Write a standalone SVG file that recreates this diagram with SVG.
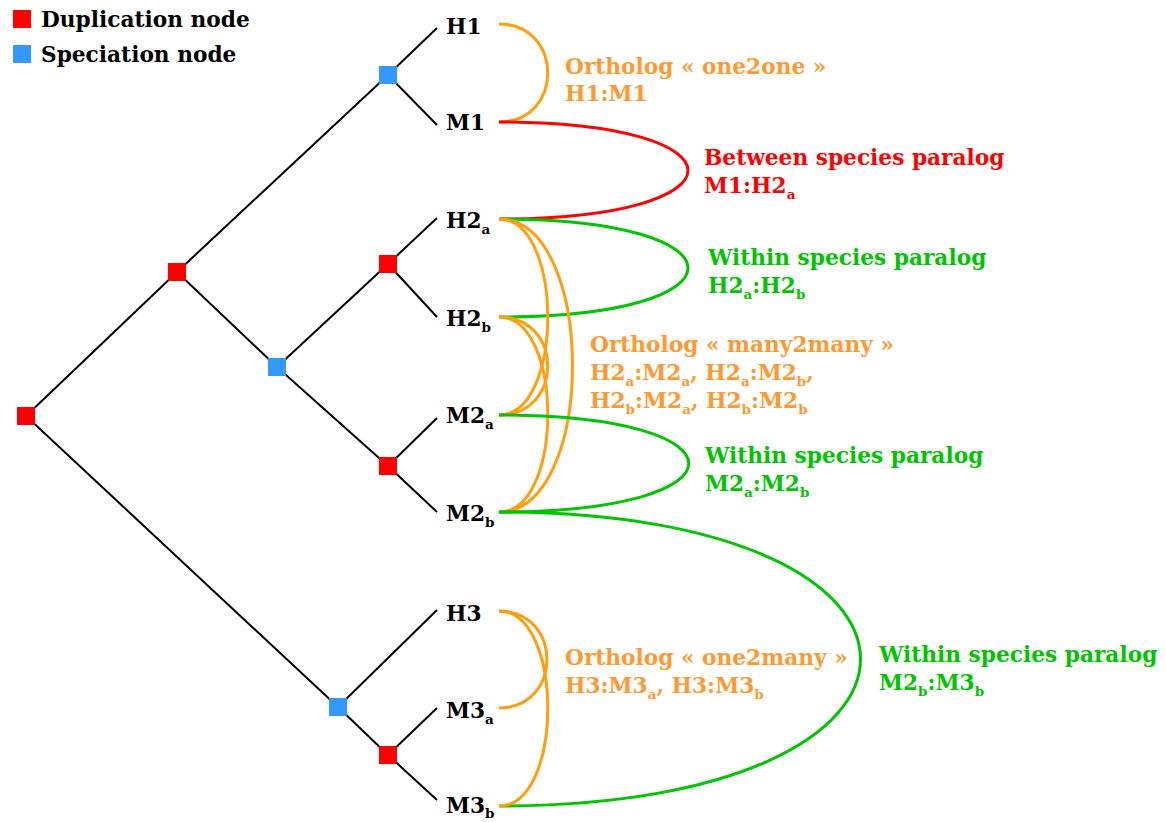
<svg xmlns="http://www.w3.org/2000/svg" width="1166" height="822" viewBox="0 0 1166 822">
  <style>
    text { font-family: "DejaVu Serif", "Liberation Serif", serif; font-weight: bold; font-size: 21.7px; }
    .leaf { fill: #000; }
    .sub { font-size: 13.5px; }
    .edge { stroke: #000; stroke-width: 2; fill: none; }
    .arc { fill: none; stroke-width: 3; }
    .orth { stroke: #FF9E0F; }
    .para-between { stroke: #FF0000; }
    .para-within { stroke: #00C400; }
    .t-orth { fill: #FF9933; }
    .t-between { fill: #FF0000; }
    .t-within { fill: #00C400; }
    .dup { fill: #FF0000; }
    .spec { fill: #3399FF; }
  </style>

  <!-- legend -->
  <g id="legend">
    <rect class="dup" x="13" y="10" width="18" height="18"/>
    <text x="41" y="27">Duplication node</text>
    <rect class="spec" x="13" y="45" width="18" height="18"/>
    <text x="41" y="62">Speciation node</text>
  </g>

  <!-- tree branches and relationship arcs -->
  <g id="connectors">
    <g id="branches">
      <path class="edge" d="M26,416 L177,272"/>
      <path class="edge" d="M26,416 L338,707"/>
      <path class="edge" d="M177,272 L388,75"/>
      <path class="edge" d="M177,272 L277,367"/>
      <path class="edge" d="M388,75 L437,28"/>
      <path class="edge" d="M388,75 L437,125"/>
      <path class="edge" d="M277,367 L388,264"/>
      <path class="edge" d="M277,367 L388,466"/>
      <path class="edge" d="M388,264 L437,218"/>
      <path class="edge" d="M388,264 L437,317"/>
      <path class="edge" d="M388,466 L437,418"/>
      <path class="edge" d="M388,466 L437,512"/>
      <path class="edge" d="M338,707 L437,610"/>
      <path class="edge" d="M338,707 L388,755"/>
      <path class="edge" d="M388,755 L437,708"/>
      <path class="edge" d="M388,755 L437,800"/>
    </g>
    <g id="arcs">
      <!-- orthologs one2one -->
      <path class="arc orth" d="M499,24 C564,24 564,122 499,122"/>
      <!-- between species paralog -->
      <path class="arc para-between" d="M499,122 C751,122 751,219 499,219"/>
      <!-- within species paralog H2a:H2b -->
      <path class="arc para-within" d="M499,219 C751,219 751,317 499,317"/>
      <!-- orthologs many2many -->
      <path class="arc orth" d="M499,219 C564,219 564,415 499,415"/>
      <path class="arc orth" d="M499,219 C597,219 597,512 499,512"/>
      <path class="arc orth" d="M499,317 C564,317 564,415 499,415"/>
      <path class="arc orth" d="M499,317 C564,317 564,512 499,512"/>
      <!-- within species paralog M2a:M2b -->
      <path class="arc para-within" d="M499,415 C752,415 752,512 499,512"/>
      <!-- within species paralog M2b:M3b -->
      <path class="arc para-within" d="M499,512 C981,512 981,806 499,806"/>
      <!-- orthologs one2many -->
      <path class="arc orth" d="M499,611 C563,611 563,708 499,708"/>
      <path class="arc orth" d="M499,611 C564,611 564,806 499,806"/>
    </g>
  </g>

  <!-- internal nodes -->
  <g id="n-root"><rect class="dup" x="17" y="407" width="18" height="18"/></g>
  <g id="n-dup1"><rect class="dup" x="168" y="263" width="18" height="18"/></g>
  <g id="n-spec1"><rect class="spec" x="379" y="66" width="18" height="18"/></g>
  <g id="n-spec2"><rect class="spec" x="268" y="358" width="18" height="18"/></g>
  <g id="n-dup2"><rect class="dup" x="379" y="255" width="18" height="18"/></g>
  <g id="n-dup3"><rect class="dup" x="379" y="457" width="18" height="18"/></g>
  <g id="n-spec3"><rect class="spec" x="329" y="698" width="18" height="18"/></g>
  <g id="n-dup4"><rect class="dup" x="379" y="746" width="18" height="18"/></g>

  <!-- leaves -->
  <g id="leaf-H1"><text class="leaf" x="446" y="34">H1</text></g>
  <g id="leaf-M1"><text class="leaf" x="446" y="130">M1</text></g>
  <g id="leaf-H2a"><text class="leaf" x="446" y="228">H2<tspan class="sub" dy="6">a</tspan></text></g>
  <g id="leaf-H2b"><text class="leaf" x="446" y="326">H2<tspan class="sub" dy="6">b</tspan></text></g>
  <g id="leaf-M2a"><text class="leaf" x="446" y="423">M2<tspan class="sub" dy="6">a</tspan></text></g>
  <g id="leaf-M2b"><text class="leaf" x="446" y="521">M2<tspan class="sub" dy="6">b</tspan></text></g>
  <g id="leaf-H3"><text class="leaf" x="446" y="621">H3</text></g>
  <g id="leaf-M3a"><text class="leaf" x="446" y="718">M3<tspan class="sub" dy="6">a</tspan></text></g>
  <g id="leaf-M3b"><text class="leaf" x="446" y="813">M3<tspan class="sub" dy="5">b</tspan></text></g>

  <!-- relationship labels -->
  <g id="label-one2one" class="t-orth">
    <text x="565" y="74">Ortholog « one2one »</text>
    <text x="565" y="101">H1:M1</text>
  </g>
  <g id="label-between" class="t-between">
    <text x="704" y="165">Between species paralog</text>
    <text x="704" y="193">M1:H2<tspan class="sub" dy="6">a</tspan></text>
  </g>
  <g id="label-within-h2" class="t-within">
    <text x="708" y="265">Within species paralog</text>
    <text x="708" y="293">H2<tspan class="sub" dy="6">a</tspan><tspan dy="-6">:H2</tspan><tspan class="sub" dy="6">b</tspan></text>
  </g>
  <g id="label-many2many" class="t-orth">
    <text x="590" y="352">Ortholog « many2many »</text>
    <text x="590" y="380">H2<tspan class="sub" dy="6">a</tspan><tspan dy="-6">:M2</tspan><tspan class="sub" dy="6">a</tspan><tspan dy="-6">, H2</tspan><tspan class="sub" dy="6">a</tspan><tspan dy="-6">:M2</tspan><tspan class="sub" dy="6">b</tspan><tspan dy="-6">,</tspan></text>
    <text x="590" y="408">H2<tspan class="sub" dy="6">b</tspan><tspan dy="-6">:M2</tspan><tspan class="sub" dy="6">a</tspan><tspan dy="-6">, H2</tspan><tspan class="sub" dy="6">b</tspan><tspan dy="-6">:M2</tspan><tspan class="sub" dy="6">b</tspan></text>
  </g>
  <g id="label-within-m2" class="t-within">
    <text x="705" y="463">Within species paralog</text>
    <text x="705" y="491">M2<tspan class="sub" dy="6">a</tspan><tspan dy="-6">:M2</tspan><tspan class="sub" dy="6">b</tspan></text>
  </g>
  <g id="label-one2many" class="t-orth">
    <text x="565" y="665">Ortholog « one2many »</text>
    <text x="565" y="693">H3:M3<tspan class="sub" dy="6">a</tspan><tspan dy="-6">, H3:M3</tspan><tspan class="sub" dy="6">b</tspan></text>
  </g>
  <g id="label-within-m3" class="t-within">
    <text x="879" y="662">Within species paralog</text>
    <text x="879" y="690">M2<tspan class="sub" dy="6">b</tspan><tspan dy="-6">:M3</tspan><tspan class="sub" dy="6">b</tspan></text>
  </g>
</svg>
